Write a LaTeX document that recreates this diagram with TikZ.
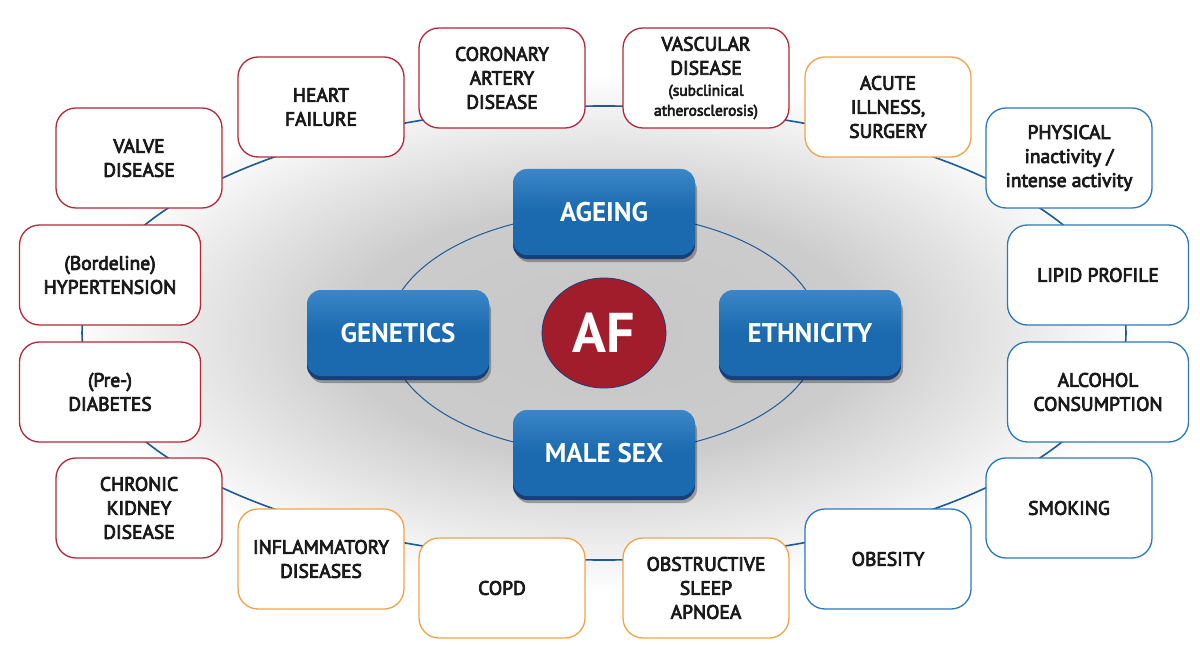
\documentclass[tikz,border=0pt]{standalone}
\usepackage{fontspec}
\setmainfont{PT Sans}
\newfontfamily\medfont[FakeBold=4]{PT Sans}
\usetikzlibrary{shapes.geometric,shadows}
\definecolor{ringblue}{HTML}{1F5A96}
\definecolor{boxred}{HTML}{B5283A}
\definecolor{boxorange}{HTML}{F2A34A}
\definecolor{boxblue}{HTML}{2A78BE}
\definecolor{bluefill}{HTML}{1B69AE}
\definecolor{bluetop}{HTML}{3A86C8}
\definecolor{bluedark}{HTML}{173F7A}
\definecolor{afred}{HTML}{A11D2B}
\definecolor{txt}{HTML}{1A1A1A}
\pgfdeclareradialshading{halo}{\pgfpoint{0bp}{0bp}}{color(0bp)=(black!22); color(12bp)=(black!20); color(25bp)=(white); color(50bp)=(white)}
\begin{document}
\begin{tikzpicture}[x=1pt,y=-1pt,
  factor/.style={draw, line width=1.3pt, fill=white, rounded corners=20pt,
    minimum width=166pt, minimum height=100pt, align=center, inner sep=2pt,
    font=\medfont\fontsize{19.5}{24}\selectfont, text=txt},
  redbox/.style={factor, draw=boxred},
  orangebox/.style={factor, draw=boxorange},
  bluebox/.style={factor, draw=boxblue},
  wide/.style={minimum width=181pt},
  core/.style={rounded corners=14pt, minimum width=182pt, minimum height=86pt,
    top color=bluetop, bottom color=bluefill, middle color=bluefill, text=white,
    font=\bfseries\fontsize{27}{30}\selectfont,
    drop shadow={shadow xshift=2pt, shadow yshift=-7pt, opacity=0.3, fill=black},
    general shadow={fill=bluedark, shadow yshift=-4pt}},
  ring/.style={ellipse, draw=ringblue, inner sep=0pt}
]
\useasboundingbox (0,0) rectangle (1200,650);
\fill[white] (0,0) rectangle (1200,650);
\shade[shading=halo] (604,333) ellipse [x radius=540, y radius=260];

% rings
\node[ring, line width=1.6pt, minimum width=1044pt, minimum height=454pt] (outerring) at (604,333) {};
\node[ring, line width=1pt, minimum width=432pt, minimum height=240pt] (innerring) at (604,333) {};

% outer factors
\node[redbox] (valve) at (139,158) {VALVE\\DISEASE};
\node[redbox] (heart) at (321,107) {HEART\\FAILURE};
\node[redbox] (cad) at (502,78) {CORONARY\\ARTERY\\DISEASE};
\node[redbox] (vasc) at (706,78) {VASCULAR\\DISEASE\\[-3pt]{\fontsize{15.5}{19}\selectfont (subclinical}\\[-4pt]{\fontsize{15.5}{19}\selectfont atherosclerosis)}};
\node[orangebox] (acute) at (888,107) {ACUTE\\ILLNESS,\\SURGERY};
\node[bluebox] (phys) at (1069,158) {PHYSICAL\\inactivity /\\intense activity};
\node[bluebox, wide] (lipid) at (1098,275) {LIPID PROFILE};
\node[bluebox, wide] (alcohol) at (1098,392) {ALCOHOL\\CONSUMPTION};
\node[bluebox] (smoking) at (1069,508) {SMOKING};
\node[bluebox] (obesity) at (888,559) {OBESITY};
\node[orangebox] (osa) at (706,588) {OBSTRUCTIVE\\SLEEP\\APNOEA};
\node[orangebox] (copd) at (502,588) {COPD};
\node[orangebox] (inflam) at (321,559) {INFLAMMATORY\\DISEASES};
\node[redbox] (ckd) at (139,508) {CHRONIC\\KIDNEY\\DISEASE};
\node[redbox, wide] (diab) at (110,392) {(Pre-)\\DIABETES};
\node[redbox, wide] (htn) at (110,275) {(Bordeline)\\HYPERTENSION};

% core factors
\node[core] (ageing) at (604,212) {AGEING};
\node[core] (genetics) at (398,333) {GENETICS};
\node[core] (ethnicity) at (810,333) {ETHNICITY};
\node[core] (male) at (604,453) {MALE SEX};
\node[ellipse, minimum width=124pt, minimum height=110pt, fill=afred, draw=bluedark, line width=0.8pt,
  text=white, font=\bfseries\fontsize{56}{60}\selectfont, inner sep=0pt] (af) at (604,333) {AF};
\end{tikzpicture}
\end{document}
